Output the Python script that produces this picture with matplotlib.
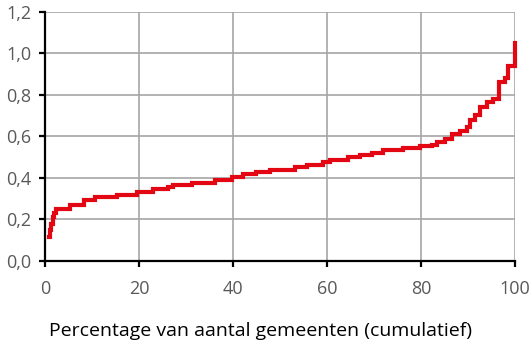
import matplotlib
matplotlib.use("Agg")
import matplotlib.pyplot as plt
from matplotlib import ticker

# cumulatief percentage gemeenten (start van elke trede) en bijbehorende waarde
pct = [0.9, 1.0, 1.3, 1.6, 1.9, 2.4, 5.3, 8.2, 10.6, 15.3, 19.5, 23.0, 26.2,
       27.3, 31.2, 36.2, 39.7, 42.2, 45.0, 47.9, 53.2, 55.7, 59.2, 60.6, 64.5,
       67.0, 69.5, 72.0, 76.2, 79.8, 82.3, 83.3, 85.1, 86.5, 88.3, 89.7, 90.4,
       91.5, 92.6, 94.0, 95.4, 96.5, 96.7, 97.9, 98.6, 100.0]
waarde = [0.117, 0.15, 0.18, 0.21, 0.232, 0.249, 0.272, 0.294, 0.308, 0.320,
          0.333, 0.345, 0.357, 0.366, 0.377, 0.390, 0.403, 0.418, 0.430, 0.440,
          0.452, 0.464, 0.477, 0.488, 0.500, 0.510, 0.521, 0.533, 0.545, 0.553,
          0.560, 0.572, 0.588, 0.610, 0.627, 0.645, 0.678, 0.705, 0.740, 0.765,
          0.780, 0.795, 0.862, 0.880, 0.940, 1.05]

x_ticks = [0, 20, 40, 60, 80, 100]
y_ticks = [0.0, 0.2, 0.4, 0.6, 0.8, 1.0, 1.2]

plt.rcParams['font.family'] = ['Open Sans', 'DejaVu Sans']

fig = plt.figure(figsize=(5.3, 3.55), dpi=100)
ax = fig.add_axes([0.0849, 0.2648, 0.8868, 0.7014])

ax.plot(pct, waarde, drawstyle='steps-post', color='#e30613', linewidth=3.0,
        solid_joinstyle='miter', clip_on=False, zorder=3)

ax.set_xlim(0, 100)
ax.set_ylim(0, 1.2)
ax.set_xticks(x_ticks)
ax.set_yticks(y_ticks)
ax.yaxis.set_major_formatter(ticker.FuncFormatter(lambda v, p: f'{v:.1f}'.replace('.', ',')))

ax.grid(True, color='#a6a6a6', linewidth=1.2)
ax.set_axisbelow(True)
for s in ['top', 'right']:
    ax.spines[s].set_visible(False)
for s in ['left', 'bottom']:
    ax.spines[s].set_color('black')
    ax.spines[s].set_linewidth(1.6)
    ax.spines[s].set_zorder(4)

ax.tick_params(axis='both', colors='black', labelcolor='#595959', labelsize=13,
               length=4, width=1.6, direction='out')
ax.tick_params(axis='y', pad=6)
ax.tick_params(axis='x', pad=10)

fig.text(0.492, 0.068, 'Percentage van aantal gemeenten (cumulatief)',
         ha='center', va='center', fontsize=14, color='black')

fig.savefig('out.png', dpi=100)
